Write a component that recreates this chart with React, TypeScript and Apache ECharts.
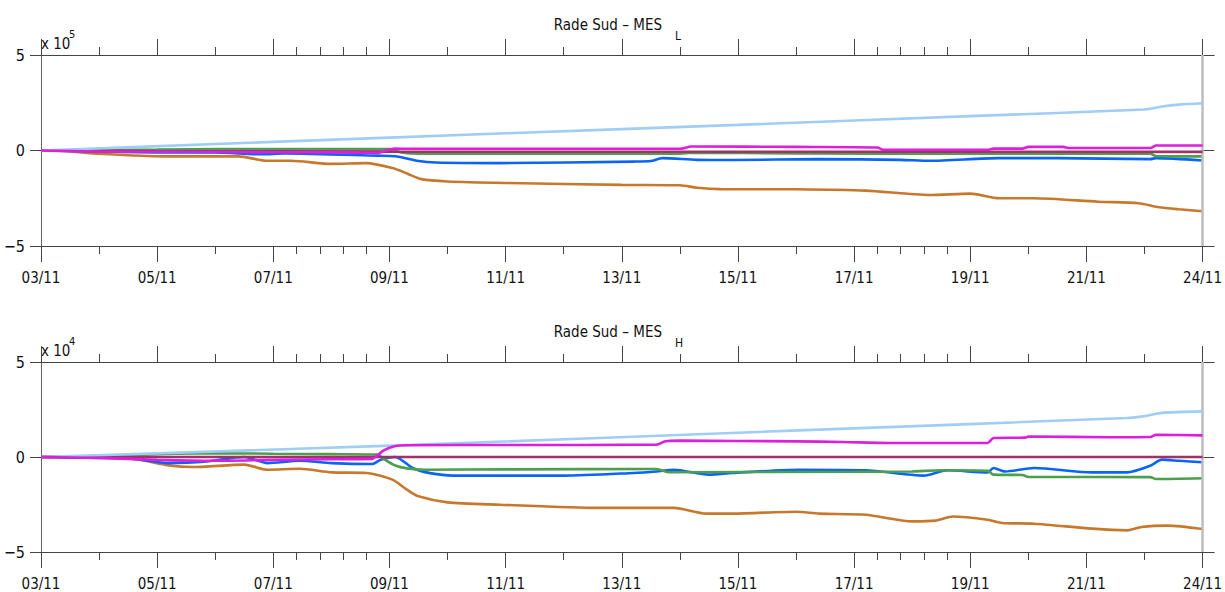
import React, { useEffect, useRef } from "react";
import * as echarts from "echarts";

const FONT = "'Liberation Sans Narrow', 'DejaVu Sans Condensed', 'Liberation Sans', sans-serif";

// x axis in days from 03/11
const X_MAX = 20.2;
const MAJOR_DAYS = [0, 2, 4, 6, 8, 10, 12, 14, 16, 18, 20];
const MAJOR_LABELS = ["03/11", "05/11", "07/11", "09/11", "11/11", "13/11", "15/11", "17/11", "19/11", "21/11", "24/11"];
const MINOR_DAYS = [1, 3, 4.4, 4.8, 5.2, 5.6, 7, 9, 11, 13, 14.4, 14.8, 15.2, 15.6, 17, 19];
const END_DAY = 20;

const COLORS = {
  lightblue: "#9fcdf5",
  orange: "#c8782c",
  blue: "#0a64f5",
  green: "#4c9f4c",
  maroon: "#a3306b",
  magenta: "#dc1fdc",
};

// ---- Panel 1 : Rade Sud – MES_L (x 10^5) ----
const L_lightblue = [[0, 0], [4, 0.45], [8, 0.9], [12, 1.34], [16, 1.8], [19, 2.15], [19.3, 2.3], [19.6, 2.4], [20, 2.47]];
const L_orange = [[0, 0], [0.5, -0.05], [1, -0.17], [2.1, -0.31], [3.4, -0.31], [3.9, -0.54], [4.3, -0.54], [5.0, -0.7], [5.6, -0.66], [6.05, -0.92], [6.3, -1.2], [6.55, -1.5], [7.0, -1.62], [8, -1.7], [10, -1.8], [11, -1.82], [11.3, -1.95], [11.7, -2.02], [13, -2.03], [14.2, -2.1], [15.3, -2.33], [16, -2.26], [16.5, -2.5], [17.1, -2.5], [18.2, -2.68], [18.9, -2.76], [19.25, -2.97], [19.6, -3.08], [20, -3.18]];
const L_blue = [[0, 0], [1, -0.05], [2, -0.1], [3, -0.1], [3.8, -0.2], [4.2, -0.15], [5.8, -0.27], [6.1, -0.3], [6.5, -0.55], [6.8, -0.63], [7.9, -0.66], [10.2, -0.58], [10.5, -0.55], [10.7, -0.4], [11.3, -0.49], [11.9, -0.5], [13.4, -0.45], [14.8, -0.49], [15.3, -0.54], [16.5, -0.4], [17.5, -0.4], [19.1, -0.45], [19.2, -0.4], [20, -0.52]];
const L_green = [[0, 0], [2, 0.05], [3, 0.08], [6.0, 0.07], [6.2, -0.1], [6.5, -0.17], [11, -0.17], [11.2, -0.12], [13, -0.15], [16, -0.17], [19.1, -0.17], [19.2, -0.3], [20, -0.31]];
const L_maroon = [[0, 0], [2, -0.03], [6, -0.06], [20, -0.07]];
const L_magenta = [[0, 0], [1, -0.05], [3, -0.08], [5, -0.1], [5.8, -0.12], [6.0, 0.05], [6.1, 0.1], [6.3, 0.09], [11.0, 0.09], [11.2, 0.21], [13, 0.19], [14.4, 0.16], [14.5, 0.04], [16.3, 0.04], [16.4, 0.1], [16.9, 0.1], [17, 0.19], [17.6, 0.19], [17.7, 0.13], [19.1, 0.13], [19.2, 0.26], [20, 0.26]];

// ---- Panel 2 : Rade Sud – MES_H (x 10^4) ----
const H_lightblue = [[0, 0], [6.17, 0.61], [13.05, 1.4], [18.7, 2.05], [19.0, 2.15], [19.3, 2.32], [20, 2.4]];
const H_orange = [[0, 0], [1, -0.02], [1.5, -0.05], [2.2, -0.44], [2.6, -0.53], [3.5, -0.4], [3.9, -0.67], [4.45, -0.62], [5.0, -0.81], [5.6, -0.84], [6.05, -1.19], [6.3, -1.72], [6.5, -2.07], [7.0, -2.39], [7.9, -2.51], [9.6, -2.68], [10.9, -2.68], [11.45, -2.98], [11.9, -2.98], [13.0, -2.88], [13.4, -2.98], [14.2, -3.04], [15.0, -3.39], [15.4, -3.35], [15.7, -3.13], [16.3, -3.3], [16.55, -3.47], [17.1, -3.51], [18.1, -3.77], [18.7, -3.86], [18.95, -3.68], [19.4, -3.61], [20, -3.79]];
const H_blue = [[0, 0], [1, -0.05], [1.6, -0.1], [2.2, -0.32], [2.85, -0.23], [3.5, 0], [3.9, -0.32], [4.45, -0.2], [5.0, -0.32], [5.7, -0.37], [5.85, -0.14], [6.1, 0], [6.4, -0.58], [6.7, -0.85], [7.1, -0.98], [9.0, -0.98], [10.2, -0.84], [10.6, -0.76], [10.9, -0.67], [11.5, -0.93], [11.9, -0.84], [13.05, -0.67], [14.2, -0.7], [15.2, -0.98], [15.6, -0.7], [16.3, -0.81], [16.4, -0.58], [16.6, -0.76], [17.1, -0.58], [18.1, -0.81], [18.7, -0.81], [19.1, -0.46], [19.3, -0.14], [19.6, -0.2], [20, -0.28]];
const H_green = [[0, 0], [1, 0.05], [2, 0.15], [3, 0.2], [4, 0.17], [5, 0.15], [5.8, 0.13], [5.9, -0.1], [6.1, -0.45], [6.3, -0.6], [6.6, -0.67], [8, -0.65], [10.6, -0.63], [10.8, -0.8], [14, -0.78], [15, -0.76], [15.5, -0.7], [16.3, -0.72], [16.4, -0.93], [16.9, -0.95], [17, -1.05], [19.1, -1.06], [19.2, -1.16], [20, -1.12]];
const H_maroon = [[0, 0], [20, 0]];
const H_magenta = [[0, 0], [1, -0.05], [2, -0.15], [3, -0.2], [4, -0.15], [5, -0.12], [5.7, -0.1], [5.8, 0.1], [5.9, 0.35], [6.1, 0.58], [6.3, 0.62], [8, 0.63], [10.6, 0.65], [10.75, 0.83], [11, 0.86], [13, 0.82], [13.8, 0.79], [14.6, 0.74], [16.3, 0.74], [16.4, 1.0], [16.95, 1.02], [17, 1.08], [18.4, 1.04], [19.1, 1.05], [19.2, 1.17], [20, 1.14]];

const PANELS = [
  {
    sub: "L", exp: "5",
    series: [
      ["orange", L_orange], ["blue", L_blue], ["green", L_green], ["maroon", L_maroon], ["lightblue", L_lightblue], ["magenta", L_magenta],
    ],
  },
  {
    sub: "H", exp: "4",
    series: [
      ["orange", H_orange], ["blue", H_blue], ["green", H_green], ["maroon", H_maroon], ["lightblue", H_lightblue], ["magenta", H_magenta],
    ],
  },
];

const GRIDS = [
  { left: 41, right: 9, top: 55, height: 191 },
  { left: 41, right: 9, top: 362, height: 190 },
];

const AXIS_COLOR = "#444";
const TXT = "#111";

function xAxesFor(gridIndex: number) {
  const base = { type: "value", gridIndex, min: 0, max: X_MAX, splitLine: { show: false } };
  return [
    {
      ...base, position: "bottom",
      axisLine: { show: true, onZero: false, lineStyle: { color: AXIS_COLOR, width: 1 } },
      axisTick: { show: true, length: 16, customValues: MAJOR_DAYS, lineStyle: { color: AXIS_COLOR } },
      axisLabel: {
        show: true, customValues: MAJOR_DAYS, fontSize: 15, margin: 24, color: TXT, fontFamily: FONT,
        formatter: (v: number) => MAJOR_LABELS[MAJOR_DAYS.indexOf(Math.round(v))] ?? "",
      },
    },
    {
      ...base, position: "bottom",
      axisLine: { show: false, onZero: false },
      axisTick: { show: true, length: 8, customValues: MINOR_DAYS, lineStyle: { color: AXIS_COLOR } },
      axisLabel: { show: false },
    },
    {
      ...base, position: "top",
      axisLine: { show: true, onZero: false, lineStyle: { color: AXIS_COLOR, width: 1 } },
      axisTick: { show: true, length: 16, customValues: MAJOR_DAYS, lineStyle: { color: AXIS_COLOR } },
      axisLabel: { show: false },
    },
    {
      ...base, position: "top",
      axisLine: { show: false, onZero: false },
      axisTick: { show: true, length: 8, customValues: MINOR_DAYS, lineStyle: { color: AXIS_COLOR } },
      axisLabel: { show: false },
    },
  ];
}

function yAxesFor(gridIndex: number) {
  const base = { type: "value", gridIndex, min: -5, max: 5, interval: 5, splitLine: { show: false } };
  return [
    {
      ...base, position: "left",
      axisLine: { show: true, onZero: false, lineStyle: { color: "#666", width: 1 } },
      axisTick: { show: true, inside: false, length: 11, lineStyle: { color: AXIS_COLOR } },
      axisLabel: {
        fontSize: 16, margin: 16, color: TXT, fontFamily: FONT,
        formatter: (v: number) => String(v).replace("-", "\u2212"),
      },
    },
    {
      ...base, position: "right",
      axisLine: { show: false, onZero: false },
      axisTick: { show: true, inside: true, length: 12, lineStyle: { color: AXIS_COLOR } },
      axisLabel: { show: false },
    },
  ];
}

export default function App() {
  const ref = useRef<HTMLDivElement>(null);
  useEffect(() => {
    if (!ref.current) return;
    const chart = echarts.init(ref.current, null, { renderer: "svg" });

    const xAxis: any[] = [];
    const yAxis: any[] = [];
    const series: any[] = [];
    PANELS.forEach((p, gi) => {
      xAxis.push(...xAxesFor(gi));
      yAxis.push(...yAxesFor(gi));
      p.series.forEach(([key, data]: any, si: number) => {
        series.push({
          type: "line",
          xAxisIndex: gi * 4,
          yAxisIndex: gi * 2,
          data,
          showSymbol: false,
          symbol: "none",
          smooth: 0.25,
          lineStyle: { width: 2.6, color: (COLORS as any)[key] },
          itemStyle: { color: (COLORS as any)[key] },
          z: 2 + si,
          markLine: si === 0 ? {
            silent: true,
            symbol: ["none", "none"],
            label: { show: false },
            lineStyle: { color: "#bdbdbd", width: 2.5, type: "solid" },
            data: [{ xAxis: END_DAY }],
          } : undefined,
        });
      });
    });

    const graphic: any[] = [];
    const titleY = [24.5, 331.5];
    const subY = [36, 343];
    const expY = [44, 351];
    PANELS.forEach((p, gi) => {
      graphic.push(
        { type: "text", x: 662, y: titleY[gi], style: { text: "Rade Sud \u2013 MES", fontSize: 15, fontFamily: FONT, fill: TXT, textAlign: "right", textVerticalAlign: "middle" } },
        { type: "text", x: 675, y: subY[gi], style: { text: p.sub, fontSize: 12, fontFamily: FONT, fill: TXT, textAlign: "left", textVerticalAlign: "middle" } },
        { type: "text", x: 41, y: expY[gi], style: { text: "x 10", fontSize: 15, fontFamily: FONT, fill: TXT, textAlign: "left", textVerticalAlign: "middle" } },
        { type: "text", x: 69, y: expY[gi] - 10, style: { text: p.exp, fontSize: 11, fontFamily: FONT, fill: TXT, textAlign: "left", textVerticalAlign: "middle" } },
      );
    });

    chart.setOption({
      animation: false,
      backgroundColor: "#ffffff",
      grid: GRIDS,
      xAxis,
      yAxis,
      series,
      graphic,
    });
    return () => chart.dispose();
  }, []);
  return <div ref={ref} style={{ position: "fixed", left: 0, top: 0, width: 1225, height: 592 }} />;
}
